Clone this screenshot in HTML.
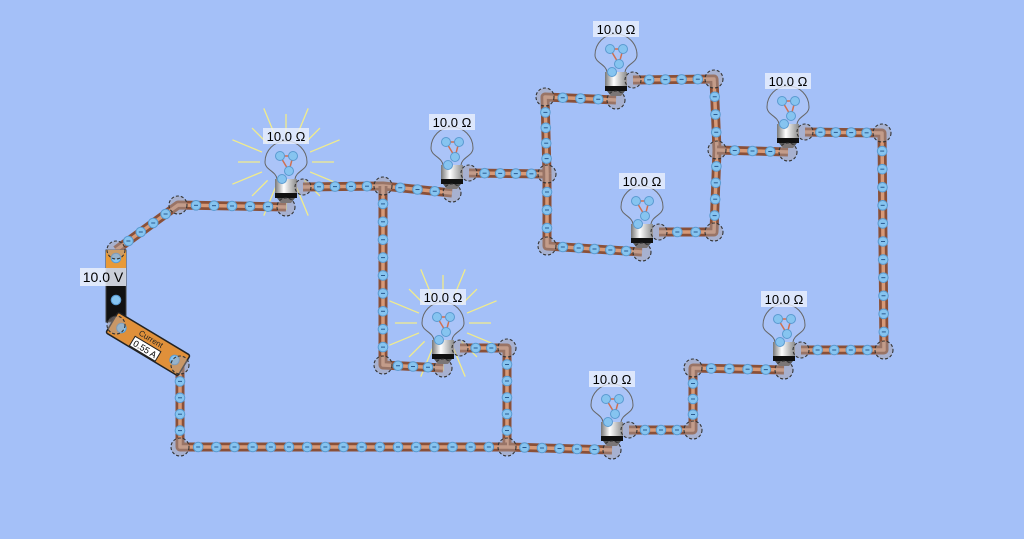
<!DOCTYPE html>
<html><head><meta charset="utf-8"><style>
html,body{margin:0;padding:0;background:#a4c0f8;}
svg{display:block;font-family:"Liberation Sans",sans-serif;}
</style></head><body>
<svg id="s" width="1024" height="539" viewBox="0 0 1024 539" xmlns="http://www.w3.org/2000/svg">
<defs>
<linearGradient id="base" x1="0" x2="1" y1="0" y2="0">
<stop offset="0" stop-color="#777"/><stop offset="0.4" stop-color="#fff"/><stop offset="1" stop-color="#888"/></linearGradient>
</defs>
<g id="rays"></g><g id="wires"></g><g id="bulbs"></g><g id="el"></g><g id="nodes"></g><g id="lbl"></g>
</svg>
<script>
var NS="http://www.w3.org/2000/svg";
function mk(p,t,a,txt){var e=document.createElementNS(NS,t);for(var k in a)e.setAttribute(k,a[k]);if(txt)e.textContent=txt;document.getElementById(p).appendChild(e);return e;}
var wires=[
[[116,250],[178,205],[286,207]],
[[303,187],[383,186],[452,193]],
[[469,173],[547,174]],
[[547,174],[545,97],[616,100]],
[[633,80],[714,79],[717,150],[714,232],[659,232]],
[[642,252],[547,246],[547,174]],
[[717,150],[788,152]],
[[805,132],[882,133],[884,350],[801,350]],
[[784,370],[693,368],[693,430],[629,430]],
[[612,450],[507,447],[507,348],[460,348]],
[[443,368],[383,365],[383,186]],
[[507,447],[180,447],[180,365]]
];
var nodes=[[116,250],[178,205],[286,207],[383,186],[452,193],[547,174],[545,97],[616,100],[714,79],[717,150],[714,232],[642,252],[547,246],[788,152],[882,133],[884,350],[784,370],[693,368],[693,430],[612,450],[507,447],[507,348],[443,368],[383,365],[180,447],[180,365],[116,325]];
var rnodes=[[303,187],[469,173],[633,80],[659,232],[805,132],[801,350],[629,430],[460,348]];
wires.forEach(function(w){
 var d="M"+w.map(function(p){return p.join(",")}).join(" L");
 mk("wires","path",{d:d,fill:"none",stroke:"#8a5038","stroke-width":9,"stroke-linejoin":"round"});
 mk("wires","path",{d:d,fill:"none",stroke:"#d79a78","stroke-width":3.5,"stroke-linejoin":"round"});
 for(var i=0;i<w.length-1;i++){var a=w[i],b=w[i+1],L=Math.hypot(b[0]-a[0],b[1]-a[1]),n=Math.floor(L/19);
  for(var j=1;j<=n;j++){var t=j/(n+1);var x=a[0]+(b[0]-a[0])*t,y=a[1]+(b[1]-a[1])*t;
   mk("el","circle",{cx:x,cy:y,r:4.8,fill:"#86c4f0",stroke:"#5a9ad0","stroke-width":1});
   mk("el","line",{x1:x-2,y1:y,x2:x+2,y2:y,stroke:"#2a5a90","stroke-width":1});}}
});
mk("wires","rect",{x:106,y:250,width:20,height:72,fill:"#111",stroke:"#444"});
mk("wires","rect",{x:106,y:250,width:20,height:18,fill:"#e89a38"});
[[116,258],[116,300]].forEach(function(p){mk("el","circle",{cx:p[0],cy:p[1],r:4.8,fill:"#86c4f0",stroke:"#5a9ad0"});});
var am=mk("wires","g",{transform:"translate(148,344) rotate(31)"});
function ag(t,a,txt){var e=document.createElementNS(NS,t);for(var k in a)e.setAttribute(k,a[k]);if(txt)e.textContent=txt;am.appendChild(e);}
ag("rect",{x:-42,y:-12,width:84,height:24,fill:"#e0903a",stroke:"#222","stroke-width":1.5,rx:2});
ag("text",{x:0,y:-3,"font-size":8,"text-anchor":"middle",fill:"#222"},"Current");
ag("rect",{x:-15,y:0,width:30,height:11,fill:"#fff",stroke:"#222","stroke-width":1});
ag("text",{x:0,y:9,"font-size":9,"text-anchor":"middle",fill:"#000"},"0.55 A");
ag("circle",{cx:-31,cy:0,r:4.8,fill:"#86c4f0",stroke:"#5a9ad0"});
ag("circle",{cx:31,cy:0,r:4.8,fill:"#86c4f0",stroke:"#5a9ad0"});
var bulbs=[[286,207,1],[452,193,0],[616,100,0],[642,252,0],[788,152,0],[784,370,0],[612,450,0],[443,368,1]];
bulbs.forEach(function(b){var x=b[0],y=b[1],cx=x,cy=y-45;
 if(b[2]){for(var i=0;i<16;i++){var an=i/16*Math.PI*2;mk("rays","line",{x1:cx+Math.cos(an)*26,y1:cy+Math.sin(an)*26,x2:cx+Math.cos(an)*(i%2?58:48),y2:cy+Math.sin(an)*(i%2?58:48),stroke:"#f2ec8a","stroke-width":1.3});}}
 mk("bulbs","path",{d:"M"+(x-9)+","+(y-28)+" C"+(x-10)+","+(y-36)+" "+(cx-21)+","+(cy+8)+" "+(cx-21)+","+cy+" A21,21 0 1 1 "+(cx+21)+","+cy+" C"+(cx+21)+","+(cy+8)+" "+(x+10)+","+(y-36)+" "+(x+9)+","+(y-28),fill:"rgba(200,215,250,0.2)",stroke:"#666","stroke-width":1});
 mk("bulbs","path",{d:"M"+(cx-6)+","+(cy-6)+" L"+(cx+7)+","+(cy-6)+" L"+(cx+3)+","+(cy+9)+" L"+(cx-6)+","+(cy-6),fill:"none",stroke:"#d07050","stroke-width":1.5});
 [[cx-6,cy-6],[cx+7,cy-6],[cx+3,cy+9],[cx-4,cy+17]].forEach(function(p){mk("el","circle",{cx:p[0],cy:p[1],r:4.5,fill:"#86c4f0",stroke:"#5a9ad0"});});
 mk("bulbs","rect",{x:x-11,y:y-28,width:22,height:18,fill:"url(#base)"});
 mk("bulbs","rect",{x:x-11,y:y-14,width:22,height:5,fill:"#111"});
 mk("bulbs","path",{d:"M"+(x-9)+","+(y-9)+" L"+(x+9)+","+(y-9)+" L"+(x+5)+","+(y-4)+" L"+(x-5)+","+(y-4)+"Z",fill:"#555"});
 mk("lbl","rect",{x:cx-23,y:cy-34,width:46,height:16,fill:"rgba(235,240,252,0.8)"});
 mk("lbl","text",{x:cx,y:cy-21,"font-size":13,"text-anchor":"middle",fill:"#000"},"10.0 Ω");
});
nodes.forEach(function(n){mk("nodes","circle",{cx:n[0],cy:n[1],r:9,fill:"rgba(170,160,160,0.45)",stroke:"#333","stroke-width":1.1,"stroke-dasharray":"3,2"});});
rnodes.forEach(function(n){mk("nodes","circle",{cx:n[0],cy:n[1],r:8,fill:"rgba(170,160,160,0.45)",stroke:"#333","stroke-width":1.1,"stroke-dasharray":"3,2"});});
mk("lbl","rect",{x:80,y:268,width:46,height:18,fill:"rgba(235,240,252,0.85)"});
mk("lbl","text",{x:103,y:282,"font-size":14,"text-anchor":"middle",fill:"#000"},"10.0 V");
</script>
</body></html>
